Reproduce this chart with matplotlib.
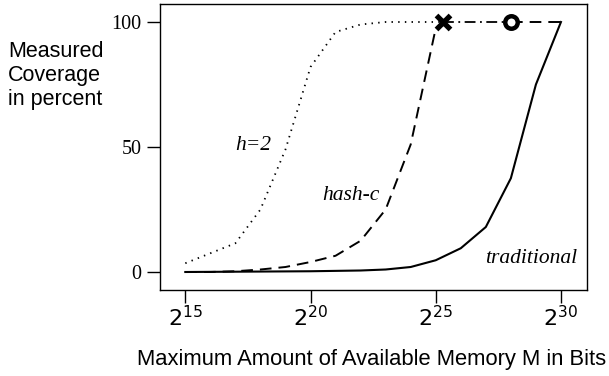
import matplotlib
matplotlib.use("Agg")
import matplotlib.pyplot as plt

# -----------------------------------
# Data (x = log2 of memory in bits, y = coverage %)
# -----------------------------------

h2_exp = [15, 17, 18, 19, 20, 21, 22, 23, 24, 25.3]
h2_cov = [3.5, 11.5, 25, 49, 82, 96, 99, 100, 100, 100]

hashc_exp = [15, 16, 17, 18, 19, 20, 21, 22, 23, 24, 25, 25.3]
hashc_cov = [0, 0, 0.3, 1, 2, 4, 6.5, 12.5, 25, 51, 97.5, 100]

trad_exp = [15, 20, 22, 23, 24, 25, 26, 27, 28, 29, 30]
trad_cov = [0, 0.3, 0.6, 1, 2, 4.7, 9.5, 18, 37.5, 75, 100]

x_mark = (25.3, 100)
o_mark = (28.02, 100)

xticks = [15, 20, 25, 30]
yticks = [0, 50, 100]

plt.rcParams['mathtext.fontset'] = 'custom'
plt.rcParams['mathtext.rm'] = 'Liberation Sans'

serif = 'Liberation Serif'
sans = 'Liberation Sans'

fig = plt.figure(figsize=(6.09, 3.76), dpi=100)
ax = fig.add_axes([159.5 / 609, 1 - 290 / 376, 427 / 609, 286 / 376])

ax.plot(h2_exp, h2_cov, color='black', lw=1.3, linestyle=(0, (0.8, 2.9)))
ax.plot(hashc_exp, hashc_cov, color='black', lw=1.4, linestyle=(0, (6, 3.6)))
ax.plot(trad_exp, trad_cov, color='black', lw=1.5)

# x -> o dash-dot, o -> 2^30 dashed
ax.plot([x_mark[0], o_mark[0]], [x_mark[1], o_mark[1]], color='black', lw=1.3,
        linestyle=(0, (6, 2.5, 1, 2.5)))
ax.plot([o_mark[0], 30], [o_mark[1], 100], color='black', lw=1.4, linestyle=(0, (6, 3.6)))

ax.plot(*x_mark, marker='x', ms=10, mew=3.8, color='black')
ax.plot(*o_mark, marker='o', ms=9, mew=3.2, mfc='white', mec='black')

ax.text(17.73, 50.7, 'h=2', family=serif, style='italic', fontsize=15.5, ha='center', va='center')
ax.text(21.62, 30.7, 'hash-c', family=serif, style='italic', fontsize=15.5, ha='center', va='center')
ax.text(28.8, 5.5, 'traditional', family=serif, style='italic', fontsize=15.5, ha='center', va='center')

ax.set_xlim(13.97, 31.02)
ax.set_ylim(-7.2, 107.2)

ax.set_xticks(xticks)
ax.set_xticklabels([r'$\mathregular{2^{%d}}$' % t for t in xticks], fontsize=16)
ax.set_yticks(yticks)
ax.set_yticklabels([str(t) for t in yticks], family=serif, fontsize=14.5)
ax.tick_params(direction='out', length=9.5, width=1, color='black')
ax.tick_params(axis='y', pad=3.5)
ax.tick_params(axis='x', pad=1.5)

for s in ax.spines.values():
    s.set_linewidth(1)

fig.text(8 / 609, 1 - 105 / 376, 'Measured\nCoverage\nin percent', family=sans,
         fontsize=15.5, ha='left', va='baseline', linespacing=1.2)
fig.text(372 / 609, 1 - 365 / 376, 'Maximum Amount of Available Memory M in Bits',
         family=sans, fontsize=15.8, ha='center', va='baseline')

fig.savefig('out.png', dpi=100)
